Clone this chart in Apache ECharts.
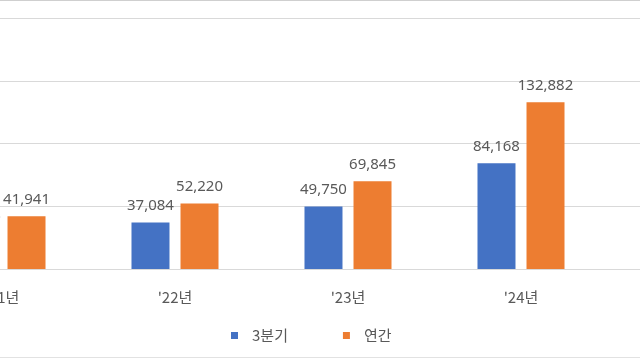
<!DOCTYPE html>
<html>
<head>
<meta charset="utf-8">
<script src="https://cdn.jsdelivr.net/npm/echarts@6/dist/echarts.min.js"></script>
<style>
html,body{margin:0;padding:0;background:#fff;}
#wrap{position:relative;width:640px;height:360px;overflow:hidden;}
#chart{position:absolute;left:-100px;top:0;width:840px;height:360px;}
#bt{position:absolute;left:0;top:0;width:640px;height:1px;background:#cfcfcf;}
#bb{position:absolute;left:0;top:357px;width:640px;height:1px;background:#e2e2e2;}
</style>
</head>
<body>
<div id="wrap"><div id="chart"></div><div id="bt"></div><div id="bb"></div></div>
<script>
const categories = ["'21년", "'22년", "'23년", "'24년"];
const q3Values = [27800, 37084, 49750, 84168];
const annualValues = [41941, 52220, 69845, 132882];
const seriesNames = ['3분기', '연간'];
const yMin = 0, yMax = 200000, yInterval = 50000;

const chart = echarts.init(document.getElementById('chart'), null, {renderer: 'canvas'});
const labelStyle = {
  show: true, position: 'top', distance: 9,
  color: '#595959', fontSize: 15, fontFamily: 'Noto Sans, sans-serif',
  formatter: p => p.value.toLocaleString('en-US')
};
chart.setOption({
  animation: false,
  backgroundColor: '#fff',
  grid: [
    {left: 15.5, width: 692, top: 18, bottom: 91},
    {left: 100, right: 100, top: 18, bottom: 91}
  ],
  legend: {
    data: seriesNames,
    left: 326, top: 323,
    itemWidth: 7, itemHeight: 7, itemGap: 55,
    icon: 'rect',
    textStyle: {color: '#595959', fontSize: 15, fontFamily: 'Noto Sans CJK KR', padding: [0, 0, 0, 9]}
  },
  xAxis: [
    {type: 'category', gridIndex: 0, data: categories,
     axisLine: {show: false}, axisTick: {show: false},
     axisLabel: {color: '#595959', fontSize: 15, fontFamily: 'Noto Sans CJK KR', margin: 21}},
    {type: 'value', gridIndex: 1, show: false}
  ],
  yAxis: [
    {type: 'value', gridIndex: 0, min: yMin, max: yMax, interval: yInterval,
     axisLabel: {show: false}, splitLine: {show: false}, axisLine: {show: false}},
    {type: 'value', gridIndex: 1, min: yMin, max: yMax, interval: yInterval,
     axisLabel: {show: false}, axisLine: {show: false},
     splitLine: {show: true, lineStyle: {color: '#d9d9d9', width: 1}}}
  ],
  series: [
    {name: seriesNames[0], type: 'bar', xAxisIndex: 0, yAxisIndex: 0, data: q3Values,
     barWidth: 38, barGap: '29%', itemStyle: {color: '#4472C4'}, label: labelStyle, z: 3},
    {name: seriesNames[1], type: 'bar', xAxisIndex: 0, yAxisIndex: 0, data: annualValues,
     barWidth: 38, barGap: '29%', itemStyle: {color: '#ED7D31'}, label: labelStyle, z: 3}
  ]
});
</script>
</body>
</html>
